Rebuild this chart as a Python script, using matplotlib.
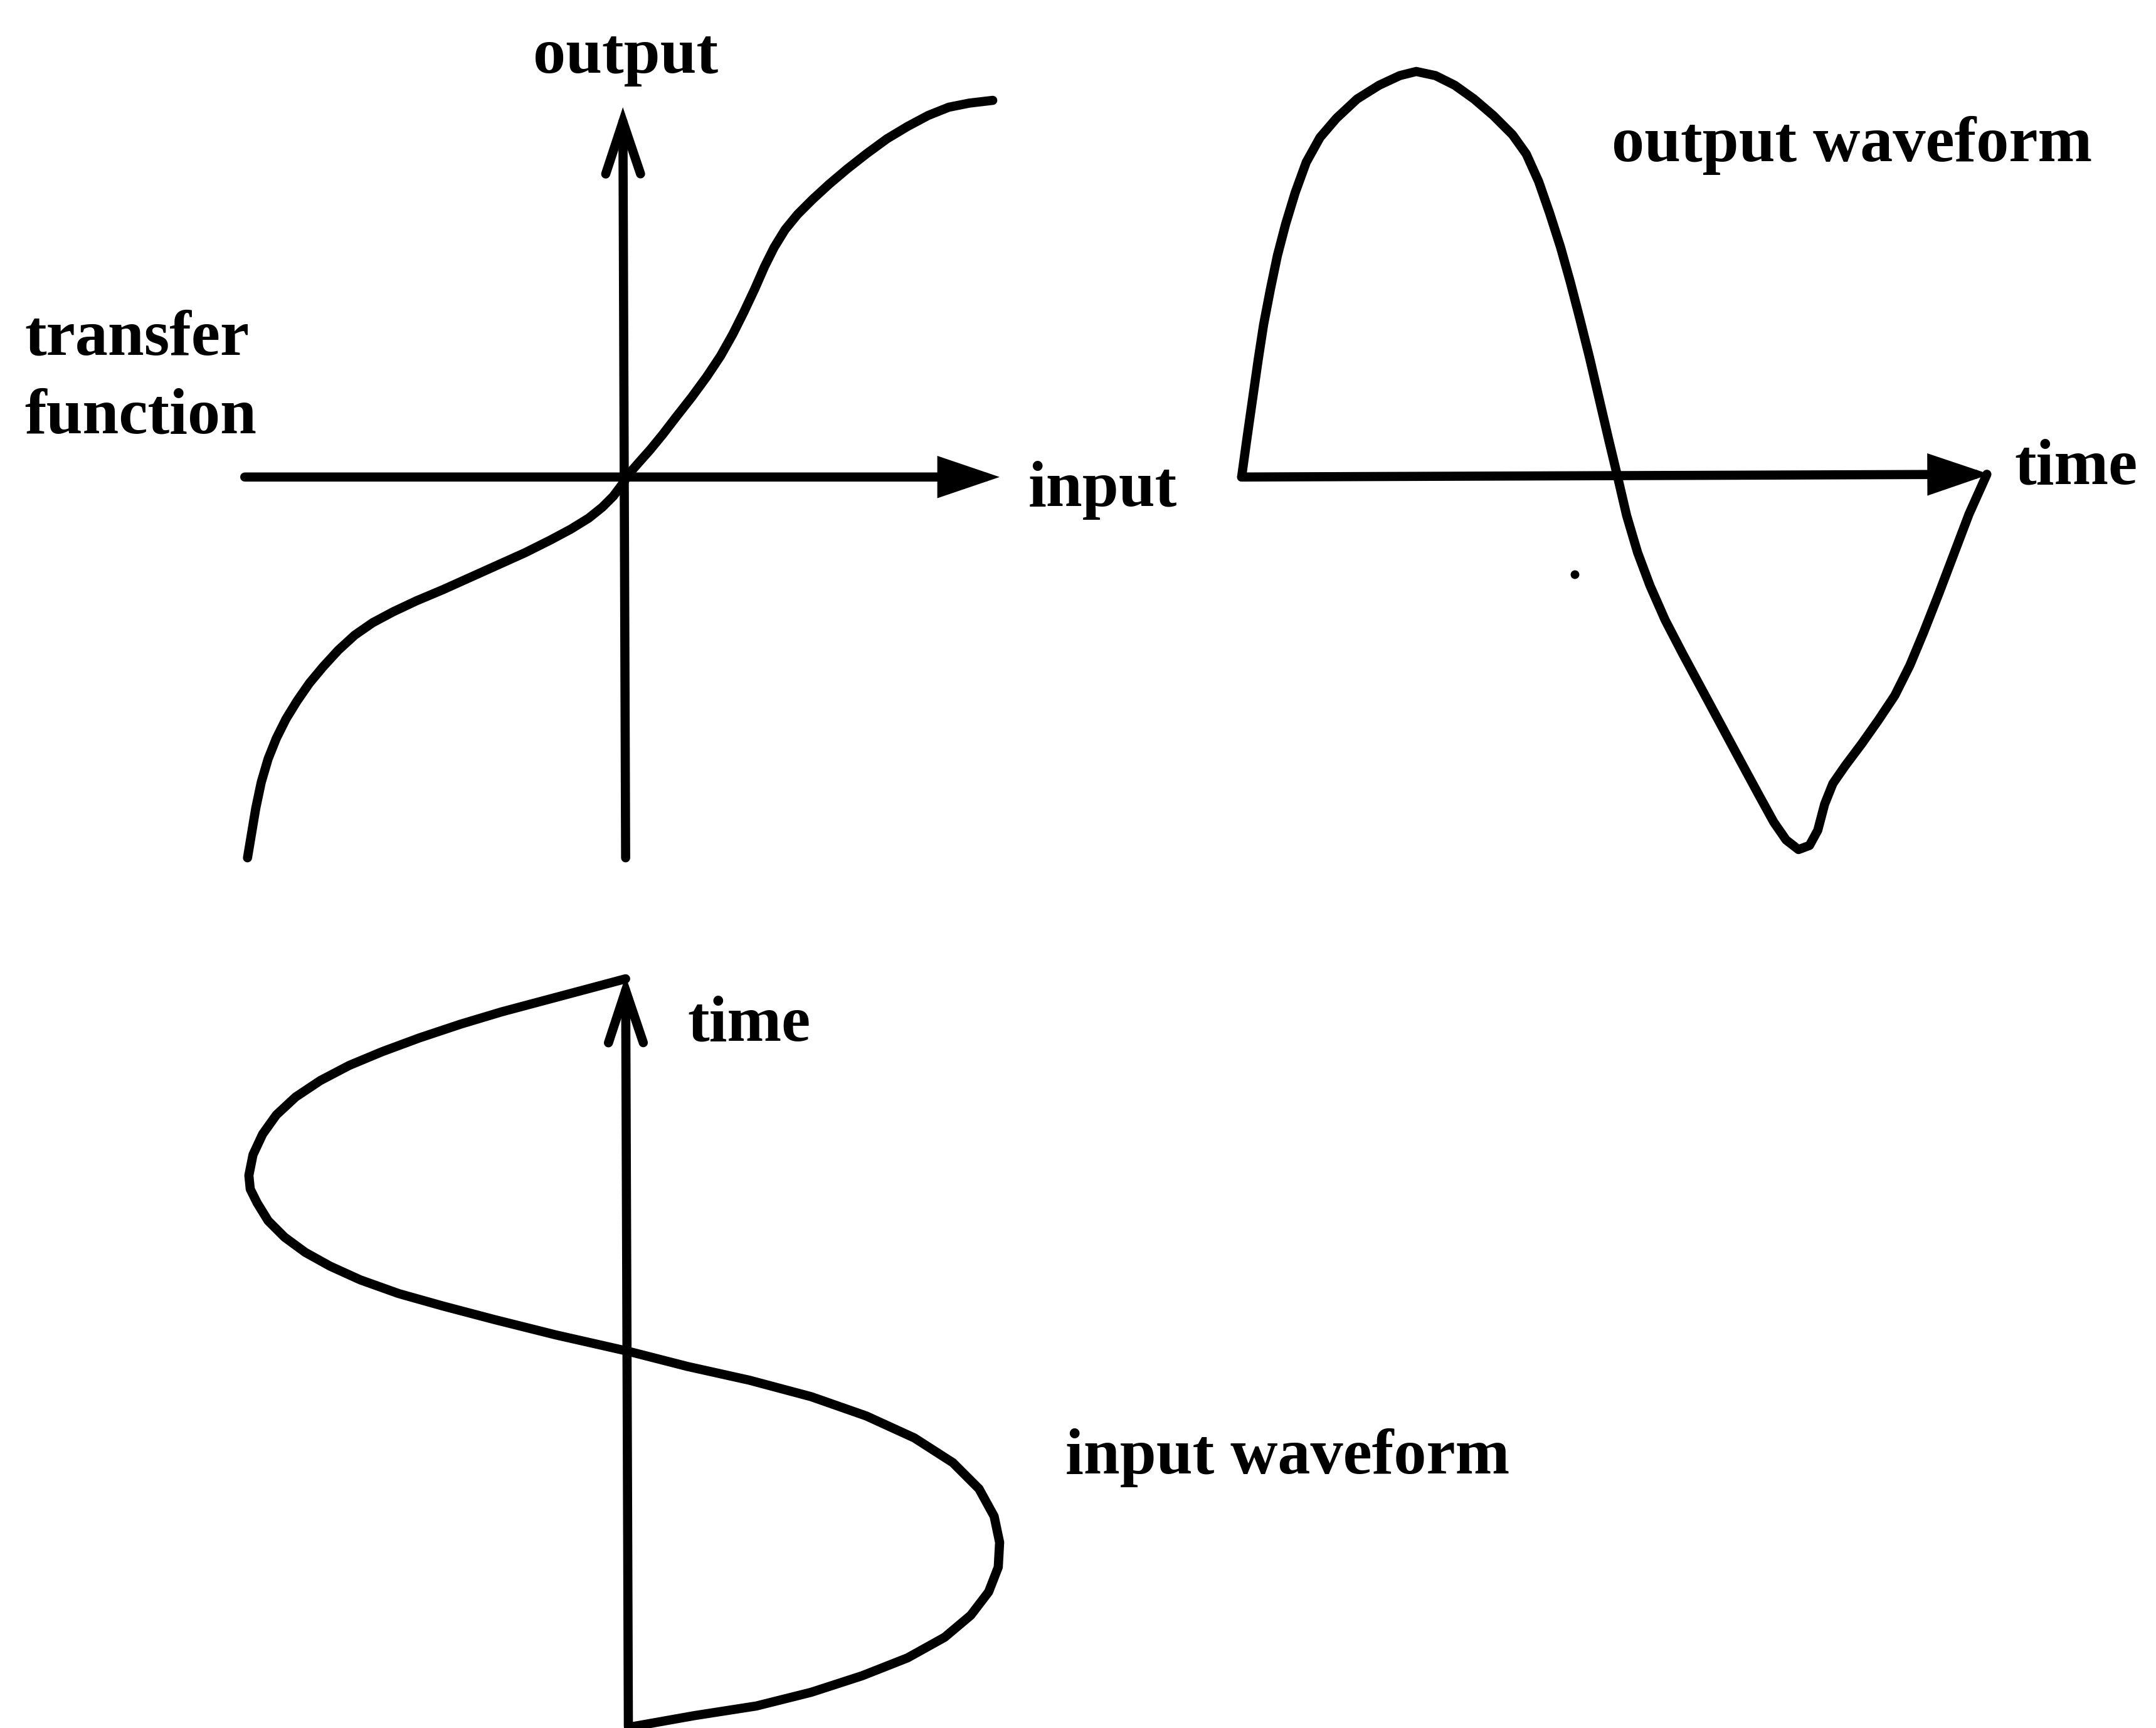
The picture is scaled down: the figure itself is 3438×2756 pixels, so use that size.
import matplotlib.pyplot as plt

# all coordinates, in a 1568 x 1257 frame (y down)
transfer_x = [180, 183, 186, 190, 195, 201, 208, 216, 225, 235, 246, 258, 271, 286, 303, 322,
              342, 362, 382, 400, 415, 428, 438, 446, 452, 458, 465, 473, 482, 492, 503, 514,
              524, 533, 541, 549, 556, 563, 571, 580, 591, 603, 616, 630, 645, 660, 675, 690,
              705, 722]
transfer_y = [624, 606, 588, 569, 552, 537, 523, 510, 497, 485, 473, 462, 453, 445, 437, 429,
              420, 411, 402, 393, 385, 377, 369, 361, 353, 344, 336, 327, 316, 303, 289, 274,
              259, 243, 227, 210, 194, 180, 167, 156, 145, 134, 123, 112, 101, 92, 84, 78,
              75, 73]

output_x = [903, 907, 911, 915, 919, 924, 929, 935, 942, 950, 960, 972, 987, 1003, 1018, 1030,
            1044, 1058, 1072, 1086, 1100, 1110, 1119, 1127, 1135, 1142, 1149, 1156, 1163, 1170,
            1176, 1183, 1191, 1200, 1211, 1224, 1238, 1252, 1266, 1279, 1290, 1299, 1308, 1316,
            1322, 1327, 1333, 1342, 1354, 1366, 1378, 1389, 1399, 1410, 1421, 1432, 1445]
output_y = [347, 318, 290, 262, 236, 210, 186, 163, 140, 118, 100, 86, 72, 62, 55, 52, 55, 62,
            72, 84, 98, 112, 132, 155, 180, 205, 232, 260, 290, 320, 345, 375, 402, 426, 451,
            476, 502, 528, 554, 578, 598, 611, 618, 615, 604, 585, 570, 557, 541, 524, 506, 484,
            460, 432, 403, 374, 345]

input_x = [455, 425, 395, 365, 335, 305, 278, 254, 233, 215, 201, 191, 184, 181, 182, 187,
           195, 207, 222, 240, 262, 290, 322, 360, 404, 457, 500, 545, 590, 630, 665, 693,
           712, 723, 727, 726, 719, 706, 687, 660, 627, 590, 550, 505, 460]
input_y = [712, 720, 728, 736, 745, 755, 765, 775, 786, 798, 811, 825, 840, 855, 865, 875,
           888, 900, 911, 921, 931, 941, 950, 960, 971, 983, 994, 1004, 1016, 1030, 1046, 1064,
           1083, 1103, 1122, 1140, 1158, 1175, 1191, 1206, 1219, 1231, 1241, 1248, 1256]

# axes arrows: (tail, head, style)
arrows = [
    ((178, 347), (727, 347), "-|>"),
    ((455, 624), (453, 78), "->"),
    ((903, 347), (1447, 345), "-|>"),
    ((457, 1256), (455, 710), "->"),
]

labels = [
    ("output", 455, 53, "center"),
    ("transfer", 18, 258, "left"),
    ("function", 18, 315, "left"),
    ("input", 748, 368, "left"),
    ("output waveform", 1172, 117, "left"),
    ("time", 1465, 352, "left"),
    ("time", 500, 757, "left"),
    ("input waveform", 775, 1072, "left"),
]

fig = plt.figure(figsize=(34.38, 27.56), dpi=100)
ax = fig.add_axes([0, 0, 1, 1])
ax.set_xlim(0, 1568)
ax.set_ylim(1257, 0)
ax.axis("off")

lw = 10.5
for xs, ys in [(transfer_x, transfer_y), (output_x, output_y), (input_x, input_y)]:
    ax.plot(xs, ys, color="black", lw=lw, solid_joinstyle="round", solid_capstyle="round")

for tail, head, style in arrows:
    if style == "->":
        st = "->,head_length=0.6,head_width=0.2"
    else:
        st = "-|>,head_length=0.5,head_width=0.17"
    ax.annotate("", xy=head, xytext=tail,
                arrowprops=dict(arrowstyle=st, color="black", lw=lw,
                                mutation_scale=100, shrinkA=0, shrinkB=0,
                                capstyle="round", joinstyle="miter"))

# stray dot from the scan
ax.plot([1145], [418], "o", color="black", ms=9)

for txt, x, y, ha in labels:
    ax.text(x, y, txt, ha=ha, va="baseline", fontsize=75, fontweight="bold",
            family=["Liberation Serif", "DejaVu Serif"])

fig.savefig("out.png", dpi=100, facecolor="white")
